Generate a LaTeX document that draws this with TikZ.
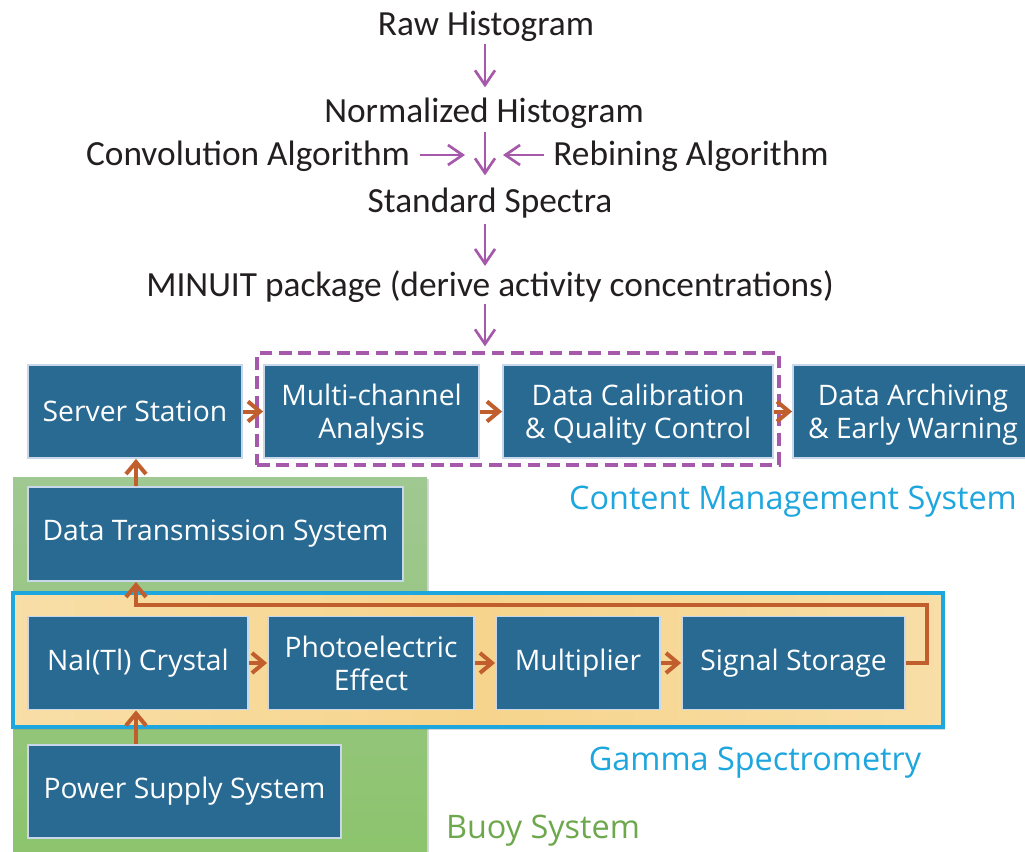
\documentclass[tikz,border=0pt]{standalone}
\usepackage{fontspec}
\setmainfont{Open Sans}
\newfontfamily\calfont{Carlito}
\usetikzlibrary{arrows.meta,shadows}

\definecolor{boxblue}{RGB}{41,106,147}
\definecolor{boxedge}{RGB}{200,216,234}
\definecolor{flowpurple}{RGB}{166,88,170}
\definecolor{linkorange}{RGB}{192,94,45}
\definecolor{skyblue}{RGB}{30,166,222}
\definecolor{leafgreen}{RGB}{110,168,77}
\definecolor{ink}{RGB}{35,31,32}
\definecolor{greentop}{RGB}{160,200,146}
\definecolor{greenbot}{RGB}{140,196,108}
\definecolor{creamedge}{RGB}{250,233,194}
\definecolor{creammid}{RGB}{246,212,140}

\pgfdeclarehorizontalshading{creamband}{100bp}{%
  color(0bp)=(creamedge); color(50bp)=(creammid); color(100bp)=(creamedge)}

\tikzset{
  block/.style={draw=boxedge, line width=1.4pt, fill=boxblue, text=white,
    font=\fontsize{21.2}{24.5}\selectfont, align=center, inner sep=0pt},
  twoline/.style={text depth=-1.5pt},
  flowtext/.style={font=\calfont\fontsize{26.5}{30}\selectfont, text=ink,
    inner sep=0pt, anchor=base},
  flow/.style={draw=flowpurple, line width=2pt,
    -{Straight Barb[length=11pt,width=15pt]}},
  link/.style={draw=linkorange, line width=3pt,
    -{Straight Barb[length=9pt,width=15pt]}},
  grouplabel/.style={font=\fontsize{24.3}{28}\selectfont, inner sep=0pt, anchor=base},
}

\begin{document}
\begin{tikzpicture}[x=0.75pt, y=-0.75pt]
\clip (0,0) rectangle (1025,851);
\fill[white] (0,0) rectangle (1025,851);

% buoy system background
\path[top color=greentop, bottom color=greenbot,
      drop shadow={shadow xshift=1.5pt, shadow yshift=-1.5pt, opacity=0.3}]
  (13,477) rectangle (427,860);

% gamma spectrometry band
\path[shading=creamband, draw=skyblue, line width=3.2pt,
      drop shadow={shadow xshift=1.5pt, shadow yshift=-2pt, opacity=0.3}]
  (13,593) rectangle (943,727);

% content management frame
\node[draw=flowpurple, dash pattern=on 9.5pt off 5pt, line width=2.4pt,
      minimum width=391.5pt, minimum height=84pt, inner sep=0pt]
  (cms) at (518,409) {};

% processing chain text
\coordinate (spine) at (485,0);
\node[flowtext] (raw)   at (486,35)  {Raw Histogram};
\node[flowtext] (norm)  at (484,122) {Normalized Histogram};
\node[flowtext] (conv)  at (248,165) {Convolution Algorithm};
\node[flowtext] (rebin) at (691,165) {Rebining Algorithm};
\node[flowtext] (std)   at (490,212) {Standard Spectra};
\node[flowtext] (minuit) at (490,296) {MINUIT package (derive activity concentrations)};
\coordinate (joinL) at (465,155);
\coordinate (joinR) at (503,155);

\draw[flow] (raw.south -| spine) ++(0,3) -- ++(0,43);
\draw[flow] (norm.south -| spine) ++(0,4) -- ++(0,43);
\draw[flow] (conv.east |- joinL) ++(10,0) -- (joinL);
\draw[flow] (rebin.west |- joinR) ++(-9,0) -- (joinR);
\draw[flow] (std.south -| spine) ++(0,6) -- ++(0,42);
\draw[flow] (minuit.south -| spine) ++(0,2) -- ([yshift=3.75pt]cms.north -| spine);

% blocks
\node[block, minimum width=160.5pt, minimum height=69.75pt] (server) at (135,411.5) {Server Station};
\node[block, twoline, minimum width=161.25pt, minimum height=69.75pt] (mca) at (371.5,411.5) {Multi-channel\\Analysis};
\node[block, twoline, minimum width=202.5pt, minimum height=69.75pt] (calib) at (638,411.5) {Data Calibration\\\& Quality Control};
\node[block, twoline, minimum width=180pt, minimum height=69.75pt] (arch) at (913,411.5) {Data Archiving\\\& Early Warning};
\node[block, minimum width=281.25pt, minimum height=70.5pt] (trans) at (215.5,534) {Data Transmission System};
\node[block, minimum width=165pt, minimum height=69.75pt] (nai) at (138,663) {NaI(Tl) Crystal};
\node[block, twoline, minimum width=154.5pt, minimum height=69.75pt] (photo) at (371,663) {Photoelectric\\Effect};
\node[block, minimum width=123pt, minimum height=69.75pt] (mult) at (578,663) {Multiplier};
\node[block, minimum width=167.25pt, minimum height=69.75pt] (store) at (793.5,663) {Signal Storage};
\node[block, minimum width=234.75pt, minimum height=69.75pt] (power) at (184.5,791.5) {Power Supply System};

% connectors
\coordinate (upx) at (136,0);
\coordinate (loopR) at (927,605);
\draw[link] (server) -- (mca);
\draw[link] (mca) -- (calib);
\draw[link] (calib.east |- arch.west) -- (arch.west);
\draw[link] (trans.north -| upx) -- (server.south -| upx);
\draw[link] (power.north -| upx) -- (nai.south -| upx);
\draw[link] (nai) -- (photo);
\draw[link] (photo) -- (mult);
\draw[link] (mult) -- (store);
\draw[link] (store.east) -| (loopR) -| (trans.south -| upx);

% group labels
\node[grouplabel, text=skyblue] (cmslabel) at (793,509) {Content Management System};
\node[grouplabel, text=skyblue] (gammalabel) at (755,770) {Gamma Spectrometry};
\node[grouplabel, text=leafgreen] (buoylabel) at (543,838) {Buoy System};
\end{tikzpicture}
\end{document}
